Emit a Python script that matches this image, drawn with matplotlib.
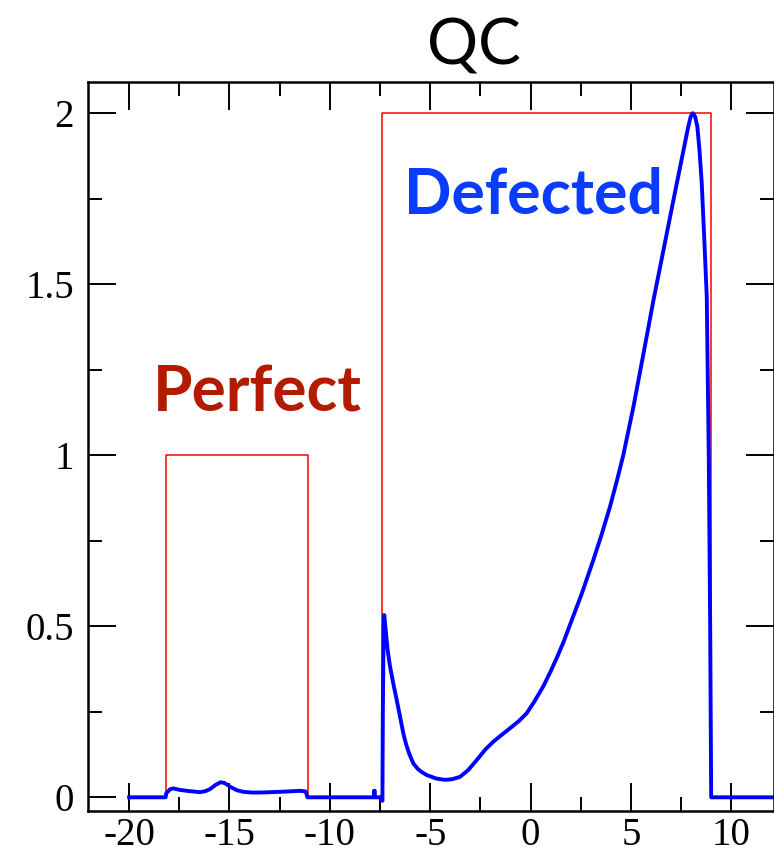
import numpy as np
import matplotlib.pyplot as plt
from matplotlib.ticker import MultipleLocator

##data
#red step profiles (perfect and defected)
step_x = [-20, -18.18, -18.18, -11.1, -11.1, -7.38, -7.38, 9.0, 9.0, 12.5]
step_y = [0, 0, 1, 1, 0, 0, 2, 2, 0, 0]

#blue QC curve
qc_x = [-20.0, -18.18, -18.15, -17.95, -17.8, -17.5, -17.13, -16.8, -16.47, -16.2,
        -15.97, -15.7, -15.45, -15.25, -14.97, -14.65, -14.31, -13.9, -13.48, -12.48,
        -11.48, -11.2, -11.12, -7.80, -7.80, -7.76, -7.76, -7.42, -7.38, -7.36,
        -7.32, -7.29, -7.22, -7.12, -7.0, -6.84, -6.67, -6.5, -6.34, -6.2,
        -6.05, -5.84, -5.6, -5.4, -5.17, -4.7, -4.26, -3.9, -3.51, -3.1,
        -2.68, -2.25, -1.85, -1.45, -1.02, -0.6, -0.19, 0.2, 0.64, 1.0,
        1.31, 1.65, 1.97, 2.55, 3.13, 3.55, 3.96, 4.3, 4.62, 5.12,
        5.62, 6.12, 6.79, 7.15, 7.45, 7.7, 7.86, 7.98, 8.08, 8.2,
        8.31, 8.42, 8.53, 8.65, 8.78, 8.88, 8.95, 9.0, 12.5]
qc_y = [0, 0, 0.012, 0.024, 0.026, 0.022, 0.019, 0.017, 0.015, 0.018,
        0.024, 0.036, 0.044, 0.042, 0.031, 0.021, 0.016, 0.014, 0.014, 0.016,
        0.019, 0.017, 0.0, 0, 0.019, 0.019, 0, 0, -0.01, 0.25,
        0.50, 0.533, 0.49, 0.43, 0.382, 0.333, 0.285, 0.235, 0.187, 0.155,
        0.128, 0.099, 0.082, 0.073, 0.065, 0.055, 0.051, 0.053, 0.060, 0.08,
        0.109, 0.14, 0.163, 0.182, 0.202, 0.222, 0.246, 0.281, 0.325, 0.368,
        0.408, 0.455, 0.505, 0.595, 0.694, 0.77, 0.850, 0.925, 1.0, 1.14,
        1.295, 1.452, 1.649, 1.755, 1.842, 1.915, 1.961, 1.99, 2.0, 1.99,
        1.961, 1.89, 1.795, 1.64, 1.464, 1.0, 0.5, 0.0, 0]

##plot
plt.rcParams['axes.unicode_minus'] = False
fig = plt.figure(figsize=(7.74, 8.58), dpi=100)
ax = fig.add_axes([88/774, 1-811/858, 1-88/774, (811-81.7)/858])

ax.plot(step_x, step_y, color='#ff0000', lw=1.1)
ax.plot(qc_x, qc_y, color='#0000ff', lw=2.8, solid_joinstyle='round')

ax.set_xlim(-22.05, 12.13)
ax.set_ylim(-0.04, 2.092)
ax.xaxis.set_major_locator(MultipleLocator(5))
ax.xaxis.set_minor_locator(MultipleLocator(2.5))
ax.yaxis.set_major_locator(MultipleLocator(0.5))
ax.yaxis.set_minor_locator(MultipleLocator(0.25))
ax.set_yticks([0, 0.5, 1, 1.5, 2], ['0', '0.5', '1', '1.5', '2'])
ax.tick_params(which='both', direction='in', top=True, right=True, width=1.4, color='black')
ax.tick_params(which='major', length=20, labelsize=28)
ax.tick_params(which='minor', length=10)
ax.tick_params(axis='x', which='major', pad=4)
ax.tick_params(axis='y', which='major', pad=10)
for lab in ax.get_xticklabels() + ax.get_yticklabels():
    lab.set_fontfamily('Liberation Serif')
for sp in ax.spines.values():
    sp.set_linewidth(1.8)

#labels
ax.text(-18.8, 1.127, 'Perfect', color='#b31b00', fontsize=46, fontweight='bold',
        family='Lato', ha='left', va='baseline')
ax.text(-6.3, 1.708, 'Defected', color='#0a3cff', fontsize=45, fontweight='bold',
        family='Lato', ha='left', va='baseline')
fig.text(474/774, 1-65/858, 'QC', fontsize=46, family='Lato', ha='center', va='baseline')

fig.savefig('out.png', dpi=100)
